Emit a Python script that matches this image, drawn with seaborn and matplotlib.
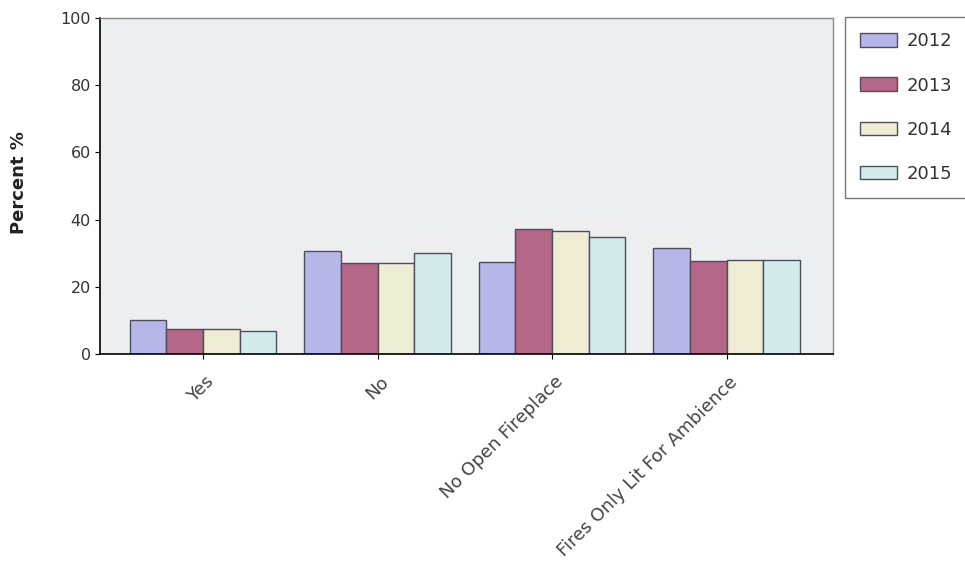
import matplotlib.pyplot as plt
import matplotlib.transforms as mtransforms
import seaborn as sns
import pandas as pd

# Data
categories = ['Yes', 'No', 'No Open Fireplace', 'Fires Only Lit For Ambience']
years = ['2012', '2013', '2014', '2015']
pct_2012 = [10.0, 30.6, 27.3, 31.6]
pct_2013 = [7.4, 27.0, 37.2, 27.7]
pct_2014 = [7.3, 27.0, 36.5, 28.1]
pct_2015 = [6.9, 30.0, 34.7, 28.1]

rows = []
for year, vals in zip(years, [pct_2012, pct_2013, pct_2014, pct_2015]):
    for cat, v in zip(categories, vals):
        rows.append({'Category': cat, 'Year': year, 'Percent': v})
df = pd.DataFrame(rows)

colors = ['#b6b6e8', '#b46786', '#efecd4', '#d3ebea']

sns.set_style('white')
plt.rcParams['font.family'] = ['DejaVu Sans']

fig = plt.figure(figsize=(9.65, 5.71), dpi=100)
ax = fig.add_axes([0.1036, 0.38, 0.7597, 0.5885])

sns.barplot(data=df, x='Category', y='Percent', hue='Year', order=categories,
            hue_order=years, palette=colors, width=0.84, edgecolor='#4d4d5c',
            linewidth=1.0, saturation=1, ax=ax)

ax.set_facecolor('#eceef0')
ax.set_ylim(0, 100)
ax.set_xlim(-0.59, 3.61)
ax.set_yticks([0, 20, 40, 60, 80, 100])
ax.tick_params(axis='y', labelsize=11.5, length=3.6, pad=3, color='black',
               direction='out', left=True, labelcolor='#333333')
ax.tick_params(axis='x', labelsize=13, length=3.6, pad=10, color='black',
               direction='out', bottom=True, labelcolor='#444444')
shift = mtransforms.ScaledTranslation(0.02, 0, fig.dpi_scale_trans)
for lbl in ax.get_xticklabels():
    lbl.set_rotation(45)
    lbl.set_ha('right')
    lbl.set_va('top')
    lbl.set_rotation_mode('anchor')
    lbl.set_transform(lbl.get_transform() + shift)

ax.set_xlabel('')
ax.set_ylabel('Percent %', fontsize=13, fontweight='bold', color='#222222')
ax.yaxis.set_label_coords(-0.098, 0.51)

for side in ['left', 'bottom']:
    ax.spines[side].set_color('black')
    ax.spines[side].set_linewidth(1.2)
for side in ['top', 'right']:
    ax.spines[side].set_color('#8a8a8a')
    ax.spines[side].set_linewidth(1.0)

leg = ax.legend(loc='upper left', bbox_to_anchor=(1.0164, 1.003), frameon=True,
                fontsize=13, handlelength=2.05, handleheight=0.78, labelspacing=1.45,
                borderpad=0.85, handletextpad=0.5, fancybox=False, title=None,
                borderaxespad=0)
leg.get_frame().set_edgecolor('#555555')
leg.get_frame().set_linewidth(1.0)
for t in leg.get_texts():
    t.set_color('#333333')

fig.savefig('out.png', dpi=100, facecolor='white')
